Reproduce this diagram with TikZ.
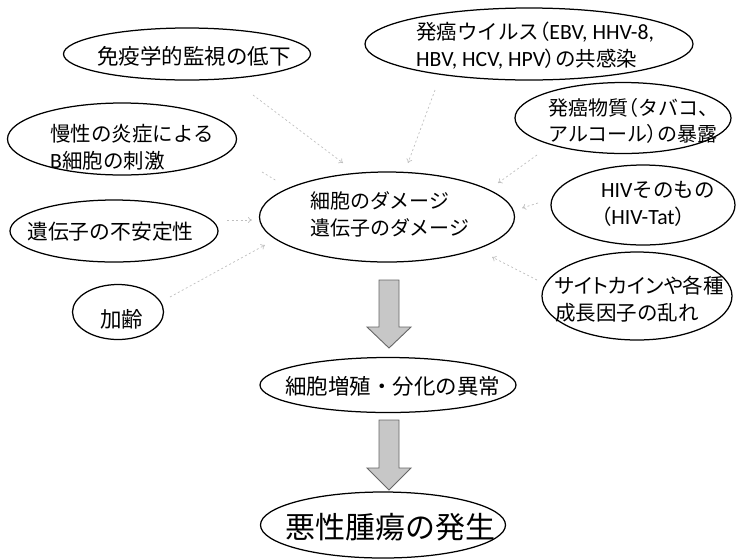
\documentclass[tikz,border=0pt]{standalone}
\usepackage{fontspec}
\setmainfont{Noto Sans CJK JP}
\newfontfamily\pfont[RawFeature=+palt]{Noto Sans CJK JP}
\newfontfamily\latfont[Scale=1.06]{Carlito}
\newcommand{\lp}{{\pfont （}}
\newcommand{\rp}{{\pfont ）}}
\usetikzlibrary{arrows.meta,shapes.geometric}
\begin{document}
\begin{tikzpicture}[x=1pt,y=-1pt,
  oval/.style={draw=black, line width=1.25pt, ellipse, inner sep=0pt},
  lbl/.style={font=\fontsize{20.5}{27}\selectfont, align=left, inner sep=0pt, anchor=west, text=black},
  conn/.style={draw=black!25, line width=0.7pt, dash pattern=on 2pt off 2.5pt, -{To[length=4pt,width=6pt]}},
  blockarrow/.style={fill=black!22, draw=black!60, line width=0.9pt, line join=miter}]
\useasboundingbox (0,0) rectangle (736,558);
% ellipses
\node[oval, minimum width=247pt, minimum height=52pt] (e1) at (187,54) {};
\node[oval, minimum width=229pt, minimum height=72pt] (e2) at (122,139) {};
\node[oval, minimum width=208pt, minimum height=62pt] (e3) at (114,231) {};
\node[oval, minimum width=91pt, minimum height=55pt] (e4) at (118,312) {};
\node[oval, minimum width=255pt, minimum height=90pt] (ec) at (387,217) {};
\node[oval, minimum width=328pt, minimum height=72pt] (e6) at (529,44) {};
\node[oval, minimum width=216pt, minimum height=71pt] (e7) at (623,118) {};
\node[oval, minimum width=184pt, minimum height=80pt] (e8) at (643,205) {};
\node[oval, minimum width=190pt, minimum height=88pt] (e9) at (637,296) {};
\node[oval, minimum width=256pt, minimum height=55pt] (e10) at (388,385) {};
\node[oval, minimum width=245pt, minimum height=66pt] (e11) at (383,525) {};
% texts
\node[lbl, font=\fontsize{21.5}{27}\selectfont] (t1) at (97,56) {免疫学的監視の低下};
\node[lbl] (t2) at (50,147) {慢性の炎症による\\{\latfont B}細胞の刺激};
\node[lbl, font=\fontsize{20.8}{27}\selectfont] (t3) at (27,232) {遺伝子の不安定性};
\node[lbl, font=\fontsize{21.5}{27}\selectfont] (t4) at (100,319) {加齢};
\node[lbl, font=\fontsize{20}{27}\selectfont] (tc) at (310,214) {細胞のダメージ\\遺伝子のダメージ};
\node[lbl] (t6) at (416,46) {発癌ウイルス\lp{\latfont EBV, HHV-8,}\\{\latfont HBV, HCV, HPV}\rp の共感染};
\node[lbl, font=\fontsize{20}{26}\selectfont] (t7) at (548,121) {発癌物質\lp タバコ{\pfont 、}\\アルコール\rp の暴露};
\node[lbl] (t8) at (601,204) {{\latfont HIV}そのもの\\\lp{\latfont HIV-Tat}\rp};
\node[lbl] (t9) at (555,299) {{\pfont サイトカインや}各種\\成長因子の乱れ};
\node[lbl, font=\fontsize{21.5}{27}\selectfont] (t10) at (285,386) {細胞増殖・分化の異常};
\node[lbl, font=\fontsize{30}{36}\selectfont] (t11) at (285,527) {悪性腫瘍の発生};
% faint connectors
\coordinate (a1) at (253,95);  \coordinate (b1) at (343,163);
\coordinate (a2) at (435,90);  \coordinate (b2) at (408,163);
\coordinate (a3) at (537,155); \coordinate (b3) at (498,183);
\coordinate (a4) at (538,203); \coordinate (b4) at (522,208);
\coordinate (a5) at (537,280); \coordinate (b5) at (492,257);
\coordinate (a6) at (262,172); \coordinate (b6) at (277,181);
\coordinate (a7) at (227,220); \coordinate (b7) at (252,220);
\coordinate (a8) at (170,297); \coordinate (b8) at (265,245);
\draw[conn] (a1) -- (b1);
\draw[conn] (a2) -- (b2);
\draw[conn] (a3) -- (b3);
\draw[conn] (a4) -- (b4);
\draw[conn] (a5) -- (b5);
\draw[draw=black!25, line width=0.7pt, dash pattern=on 2pt off 2.5pt] (a6) -- (b6);
\draw[conn] (a7) -- (b7);
\draw[conn] (a8) -- (b8);
% block arrows
\draw[blockarrow] (379,280) -- (399,280) -- (399,327) -- (411,327) -- (389,348) -- (367,327) -- (379,327) -- cycle;
\draw[blockarrow] (379,420) -- (399,420) -- (399,468) -- (411,468) -- (389,490) -- (367,468) -- (379,468) -- cycle;
\end{tikzpicture}
\end{document}
